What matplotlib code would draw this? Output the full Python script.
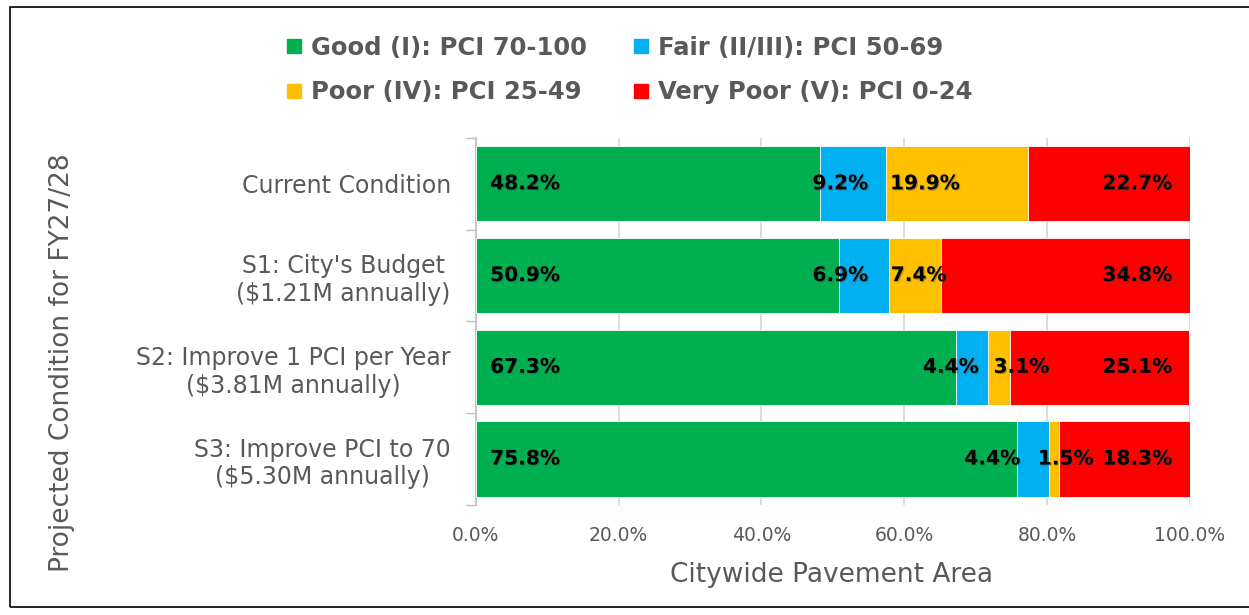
import numpy as np
import matplotlib.pyplot as plt
import matplotlib.patheffects as pe
from matplotlib.lines import Line2D
from matplotlib.patches import Rectangle

# Data (share of citywide pavement area, %)
scenarios = ["Current Condition",
             "S1: City's Budget\n($1.21M annually)",
             "S2: Improve 1 PCI per Year\n($3.81M annually)",
             "S3: Improve PCI to 70\n($5.30M annually)"]
good = [48.2, 50.9, 67.3, 75.8]
fair = [9.2, 6.9, 4.4, 4.4]
poor = [19.9, 7.4, 3.1, 1.5]
very_poor = [22.7, 34.8, 25.1, 18.3]

series_names = ["Good (I): PCI 70-100", "Fair (II/III): PCI 50-69",
                "Poor (IV): PCI 25-49", "Very Poor (V): PCI 0-24"]
colors = ["#00B050", "#00B0F0", "#FFC000", "#FF0000"]

# where the value labels sit (x in %, alignment), as placed in the original
label_x = [[2.0, 2.0, 2.0, 2.0],
           [54.9, 54.9, 70.4, 76.2],
           [58.0, 58.1, 72.5, 78.7],
           [97.5, 97.5, 97.5, 97.5]]
label_ha = ["left", "right", "left", "right"]

gray = "#595959"
plt.rcParams['font.family'] = 'DejaVu Sans'

fig = plt.figure(figsize=(12.49, 6.15), dpi=100)
ax = fig.add_axes([0.381, 0.179, 0.5717, 0.5967])

values = [good, fair, poor, very_poor]
y = np.arange(len(scenarios))
left = np.zeros(len(scenarios))
shadow = [pe.SimplePatchShadow(offset=(0.8, -0.8), shadow_rgbFace='#444444', alpha=0.4), pe.Normal()]
for i, vals in enumerate(values):
    ax.barh(y, vals, left=left, height=0.82, color=colors[i],
            edgecolor='white', linewidth=0.6, zorder=3)
    for j, v in enumerate(vals):
        ax.text(label_x[i][j], y[j], f"{v:.1f}%", ha=label_ha[i], va='center',
                fontsize=14.5, fontweight='bold', color='black', zorder=5,
                path_effects=shadow)
    left += np.array(vals)

ax.set_xlim(0, 100)
ax.set_ylim(3.5, -0.5)
ax.set_xticks(np.arange(0, 101, 20))
ax.set_xticklabels([f"{t:.1f}%" for t in np.arange(0, 101, 20)])
ax.tick_params(axis='x', length=0, pad=15, labelsize=13.5, labelcolor=gray)
ax.set_yticks(y)
ax.set_yticklabels(scenarios, multialignment='center')
ax.tick_params(axis='y', length=0, pad=18, labelsize=17, labelcolor=gray)
ax.set_yticks(np.arange(-0.5, 4.0, 1.0), minor=True)
ax.tick_params(axis='y', which='minor', length=7, color='#BFBFBF', width=1)
ax.grid(axis='x', color='#D9D9D9', linewidth=1.3, zorder=0)
for s in ['top', 'right', 'bottom']:
    ax.spines[s].set_visible(False)
ax.spines['left'].set_color('#BFBFBF')
ax.spines['left'].set_linewidth(1.2)

fig.text(0.05, 0.411, "Projected Condition for FY27/28", rotation=90,
         ha='center', va='center', fontsize=19, color=gray)
fig.text(0.666, 0.065, "Citywide Pavement Area", ha='center', va='center',
         fontsize=19, color=gray)

# legend fills column-wise, so order handles to get Good/Fair on the first row
order = [0, 2, 1, 3]
handles = [Line2D([], [], marker='s', linestyle='none', markersize=10,
                  markerfacecolor=colors[k], markeredgecolor=colors[k]) for k in order]
leg = fig.legend(handles, [series_names[k] for k in order], ncol=2, loc='center',
                 bbox_to_anchor=(0.503, 0.886), frameon=False,
                 handlelength=0.8, handletextpad=0.3, columnspacing=1.8,
                 labelspacing=0.85, prop={'size': 17.5, 'weight': 'bold'})
for t in leg.get_texts():
    t.set_color(gray)

fig.patches.append(Rectangle((0.008, 0.013), 1.0, 0.975, transform=fig.transFigure,
                             fill=False, edgecolor='black', linewidth=1.2))

fig.savefig("out.png", dpi=100)
